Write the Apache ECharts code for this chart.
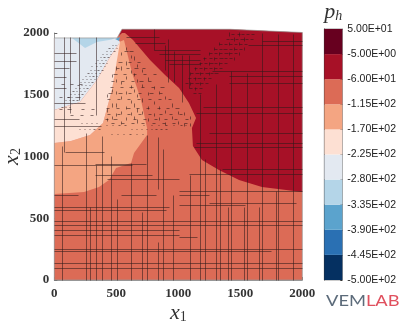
<!DOCTYPE html>
<html>
<head>
<meta charset="utf-8">
<style>
  html, body { margin: 0; padding: 0; background: #fff; }
  #chart { width: 407px; height: 330px; }
</style>
<script src="https://cdn.jsdelivr.net/npm/echarts@6/dist/echarts.min.js"></script>
</head>
<body>
<div id="chart"></div>
<script>
// colour bands, bottom to top
const bandColors = ['#053061', '#2a70b3', '#5ba3cd', '#b4d5e8', '#e3e9f1', '#fde0d3', '#f4a582', '#dc6b56', '#a71127', '#67001f']
const bandLabels = ['-5.00E+02', '-4.45E+02', '-3.90E+02', '-3.35E+02', '-2.80E+02', '-2.25E+02', '-1.70E+02', '-1.15E+02', '-6.00E+01', '-5.00E+00', '5.00E+01']

// contour regions, in x1 / x2 units
const domainRegion = [[0, 0], [2000, 0], [2000, 2004], [1417, 2030], [546, 2030], [506, 1960], [0, 1960]]
const darkRegion = [[546, 2030], [570, 2000], [635, 1943], [772, 1781], [893, 1660], [1006, 1555], [1086, 1433], [1143, 1312], [1110, 1231], [1118, 1085], [1191, 972], [1328, 891], [1490, 810], [1675, 753], [2000, 713], [2000, 2004], [1417, 2030]]
const peachRegion = [[522, 1927], [562, 1943], [627, 1676], [699, 1457], [748, 1231], [748, 1174], [643, 1028], [619, 947], [498, 907], [441, 810], [361, 753], [240, 713], [0, 696], [0, 1109], [135, 1125], [288, 1174], [393, 1271], [465, 1538]]
const paleRegion = [[530, 1927], [449, 1806], [344, 1619], [207, 1441], [0, 1376], [0, 1109], [135, 1125], [288, 1174], [393, 1271], [465, 1538]]
const greyRegion = [[0, 1960], [506, 1960], [530, 1927], [449, 1806], [344, 1619], [207, 1441], [0, 1376]]
const lightBlueRegion = [[143, 1960], [248, 1879], [344, 1927], [465, 1947], [490, 1960]]
const midBlueRegion = [[490, 1952], [530, 1968], [522, 1935]]
const peakRegion = [[520, 1975], [546, 2030], [580, 2000], [546, 2000]]

// long mesh lines: [x, y0, y1] and [y, x0, x1]
const meshV = [
  [70, 0, 1077], [86, 1036, 1960], [127, 1350, 1960], [256, 0, 1190], [288, 0, 591], [344, 0, 931], [385, 0, 1158], [465, 0, 996],
  [506, 0, 648], [619, 0, 947], [715, 0, 543], [748, 0, 1174], [844, 0, 300], [844, 729, 1150], [877, 0, 1053], [965, 0, 688],
  [1102, 0, 850], [1183, 0, 1498], [1223, 0, 972], [1312, 0, 1579], [1344, 0, 891], [1401, 0, 591], [1433, 0, 1692], [1530, 0, 591],
  [1562, 0, 1676], [1651, 0, 591], [1683, 0, 2000], [1788, 0, 713], [1812, 0, 1990], [1925, 0, 1990],
  [344, 1330, 1960], [200, 1450, 1960], [812, 1862, 2030], [917, 1600, 1950], [1030, 1440, 1820],
  [893, 1700, 1900], [973, 1600, 1850], [1094, 1550, 1820]
]
const meshH = [
  [688, 0, 199], [688, 538, 828], [688, 1006, 1248], [713, 1006, 2000], [623, 1248, 1957], [607, 1006, 1538], [591, 0, 933], [559, 0, 901],
  [470, 0, 2000], [445, 0, 2000], [397, 0, 1006], [364, 0, 1006], [348, 1006, 1151], [251, 0, 2000], [227, 0, 1748], [130, 0, 2000], [97, 0, 2000],
  [1036, 94, 401], [931, 0, 627], [939, 336, 740], [850, 336, 788], [810, 425, 1006], [858, 1094, 2000], [891, 1353, 2000],
  [1069, 1127, 2000], [1109, 1143, 2000], [1190, 1248, 2000], [1352, 1143, 2000], [1393, 1207, 2000], [1595, 1409, 2000], [1644, 1409, 2000],
  [1692, 1272, 2000], [1895, 1570, 2000], [1935, 1675, 2000], [1960, 586, 852], [1862, 812, 1175], [1781, 900, 1175], [1240, 0, 380], [1300, 0, 200],
  [1830, 0, 180], [1770, 0, 180], [1710, 0, 120], [1640, 0, 100], [1550, 0, 100], [1430, 0, 250],
  [1911, 651, 893], [1822, 852, 1175], [1741, 933, 1175]
]

// short mesh pieces in the refined zones: [y, [x, ...]]
const dashH = [
  [1990, [1430, 1475, 1510, 1548, 1590]], [1950, [1385, 1418, 1462, 1505, 1540, 1582]],
  [1910, [1330, 1372, 1412, 1450, 1495, 1530]], [1870, [1288, 1332, 1368, 1410, 1455, 1490]],
  [1830, [1250, 1294, 1330, 1375, 1412, 1450]], [1790, [1205, 1250, 1288, 1335, 1370, 1410]],
  [1750, [1172, 1212, 1254, 1290, 1330, 1372]], [1710, [1130, 1168, 1210, 1252, 1288, 1330, 500, 580, 650, 710]],
  [1670, [1100, 1142, 1178, 1222, 1260, 1295]], [1630, [1082, 1120, 1158, 1202, 1240]],
  [1590, [1060, 1098, 1142, 1180, 1218]], [1550, [1090, 1132, 1170]], [1510, [1120, 1162, 440, 520, 600, 680, 770, 850]],
  [1850, [570, 610]], [1610, [460, 540, 620, 690, 760]],
  [1760, [520, 600, 670]], [1660, [480, 560, 640, 720, 800]], [1560, [450, 530, 610, 700, 780, 860]],
  [1460, [430, 510, 590, 670, 760, 840, 920]], [1390, [420, 500, 585, 660, 745, 830, 905, 980]], [1340, [430, 510, 590, 680, 760, 850, 930, 1010]], [1300, [410, 480, 640, 720, 810, 890, 970, 1060]], [1270, [460, 540, 620, 700, 790, 870, 950, 1050]],
  [1580, [60, 130, 200]], [1480, [40, 105, 175]], [1380, [40, 110, 220, 300]], [1330, [130, 210, 290]]
]
const dashV = [
  [1415, [1975, 1895, 1815]], [1455, [1935, 1855, 1775]], [1495, [1975, 1895, 1815]], [1535, [1935, 1855]], [1335, [1895, 1815, 1735]], [1295, [1855, 1775, 1695]],
  [1255, [1815, 1735, 1655]], [1215, [1775, 1695, 1615]], [1175, [1735, 1655, 1575]], [1135, [1695, 1615, 1535]], [1095, [1655, 1575]],
  [500, [1700, 1600, 1500, 1400, 1320]], [540, [1820, 1700, 1580, 1460, 1340, 1260]], [585, [1860, 1740, 1620, 1500, 1380, 1290]], [625, [1790, 1670, 1550, 1430, 1330]], [650, [1780, 1650, 1520, 1400, 1300]], [670, [1720, 1600, 1480, 1360, 1270]],
  [715, [1680, 1560, 1440, 1340]], [760, [1610, 1490, 1380, 1280]], [805, [1540, 1420, 1320]], [850, [1500, 1380, 1290]], [900, [1460, 1350, 1250]], [950, [1400, 1300]],
  [470, [1640, 1520, 1400, 1300]], [425, [1480, 1360, 1280]], [1000, [1340, 1260]], [1050, [1330, 1240]], [1100, [1300, 1240]]
]
const dots = [
  [1900, [470, 490]], [1875, [440, 470, 500]], [1850, [420, 450, 480]], [1825, [390, 420, 455]], [1800, [370, 400, 432]], [1775, [350, 380, 412]], [1750, [330, 362, 392, 422]], [1725, [300, 338, 370, 402]], [1700, [288, 322, 352, 384]],
  [1675, [270, 300, 330, 362]], [1650, [250, 282, 312, 342]], [1625, [228, 258, 290, 322]], [1600, [212, 240, 272, 304]], [1575, [190, 220, 250, 284]], [1550, [168, 200, 232, 262]], [1525, [150, 180, 210, 242]], [1500, [130, 160, 192, 222]], [1475, [110, 140, 170, 200]], [1450, [90, 122, 150, 182]],
  [1400, [62, 92, 124]],
  [1270, [220, 260, 300, 340]], [1220, [200, 240, 280, 320, 360, 620, 660, 700, 740, 780, 820, 860, 900]], [1180, [460, 510, 560, 610, 660, 710]],
  [1250, [420, 470, 520, 570, 720, 780, 840, 900, 960, 1020, 1060]]
]

const meshColor = 'rgba(45,25,25,0.55)'

function regionSeries(points, color) {
  return {
    type: 'custom',
    xAxisIndex: 0,
    yAxisIndex: 0,
    silent: true,
    data: [0],
    renderItem: (params, api) => ({
      type: 'polygon',
      shape: { points: points.map((p) => api.coord(p)) },
      style: { fill: color }
    })
  }
}

const meshSegments = []
meshV.forEach(([x, y0, y1]) => meshSegments.push([x, y0, x, y1]))
meshH.forEach(([y, x0, x1]) => meshSegments.push([x0, y, x1, y]))
dashH.forEach(([y, xs]) => xs.forEach((x) => meshSegments.push([x, y, x + 26, y])))
dashV.forEach(([x, ys]) => ys.forEach((y) => meshSegments.push([x, y, x, y + 26])))
dots.forEach(([y, xs]) => xs.forEach((x) => meshSegments.push([x, y, x + 10, y])))

const option = {
  animation: false,
  grid: [
    { left: 54.3, top: 33, width: 248, height: 247, outerBoundsMode: 'none' },
    { left: 324.3, top: 29, width: 18, height: 251, outerBoundsMode: 'none', show: true, borderColor: '#999', borderWidth: 1, backgroundColor: 'transparent' }
  ],
  xAxis: [
    {
      type: 'value', min: 0, max: 2000, interval: 500, gridIndex: 0,
      splitLine: { show: false },
      axisLine: { lineStyle: { color: '#999' } },
      axisTick: { inside: true, length: 3, lineStyle: { color: '#666' } },
      axisLabel: { fontFamily: 'Liberation Serif', fontWeight: 'bold', fontSize: 13, color: '#333', margin: 7, formatter: (v) => String(v) },
      name: '{v|x}{s|1}', nameLocation: 'middle', nameGap: 22, nameMoveOverlap: false,
      nameTextStyle: { rich: { v: { fontFamily: 'Liberation Serif', fontStyle: 'italic', fontSize: 22, color: '#333' }, s: { fontFamily: 'Liberation Serif', fontSize: 14, color: '#333', verticalAlign: 'bottom', padding: [8, 0, 0, 0] } } }
    },
    {
      type: 'category', data: ['band'], gridIndex: 1, position: 'top',
      axisLine: { show: false }, axisTick: { show: false }, axisLabel: { show: false },
      name: '{v|p}{s|h}', nameLocation: 'middle', nameGap: 6,
      nameTextStyle: { rich: { v: { fontFamily: 'Liberation Serif', fontStyle: 'italic', fontSize: 22, color: '#333' }, s: { fontFamily: 'Liberation Serif', fontStyle: 'italic', fontSize: 14, color: '#333', padding: [8, 0, 0, 0] } } }
    }
  ],
  yAxis: [
    {
      type: 'value', min: 0, max: 2000, interval: 500, gridIndex: 0,
      splitLine: { show: false },
      axisLine: { show: true, lineStyle: { color: '#999' } },
      axisTick: { show: true, inside: true, length: 3, lineStyle: { color: '#666' } },
      axisLabel: { fontFamily: 'Liberation Serif', fontWeight: 'bold', fontSize: 13, color: '#333', margin: 5, formatter: (v) => String(v) },
      name: '{v|x}{s|2}', nameLocation: 'middle', nameGap: 31, nameRotate: 90, nameMoveOverlap: false,
      nameTextStyle: { rich: { v: { fontFamily: 'Liberation Serif', fontStyle: 'italic', fontSize: 22, color: '#333' }, s: { fontFamily: 'Liberation Serif', fontSize: 14, color: '#333', padding: [8, 0, 0, 0] } } }
    },
    {
      type: 'value', min: 0, max: 10, interval: 1, gridIndex: 1, position: 'right',
      splitLine: { show: false },
      axisLine: { show: true, lineStyle: { color: '#999' } },
      axisTick: { show: true, inside: true, length: 2, lineStyle: { color: '#333' } },
      axisLabel: { fontFamily: 'Liberation Sans', fontSize: 10.5, color: '#222', margin: 5, formatter: (v) => bandLabels[v] }
    },
    {
      type: 'value', min: 0, max: 10, interval: 1, gridIndex: 1, position: 'left',
      splitLine: { show: false },
      axisLine: { show: true, lineStyle: { color: '#333' } },
      axisTick: { show: false }, axisLabel: { show: false }
    }
  ],
  graphic: [
    {
      type: 'text', left: 326, top: 294, scaleX: 1.22,
      style: {
        text: '{a|VEM}{b|LAB}',
        rich: {
          a: { fontFamily: 'Lato', fontSize: 15, fill: '#5c6b7a', color: '#5c6b7a' },
          b: { fontFamily: 'Lato', fontSize: 15, fill: '#e0505e', color: '#e0505e' }
        }
      }
    }
  ],
  series: [
    regionSeries(domainRegion, bandColors[7]),
    regionSeries(darkRegion, bandColors[8]),
    regionSeries(peachRegion, bandColors[6]),
    regionSeries(paleRegion, bandColors[5]),
    regionSeries(greyRegion, bandColors[4]),
    regionSeries(lightBlueRegion, bandColors[3]),
    regionSeries(midBlueRegion, bandColors[2]),
    regionSeries(peakRegion, bandColors[8]),
    {
      type: 'custom',
      xAxisIndex: 0,
      yAxisIndex: 0,
      silent: true,
      data: [0],
      renderItem: (params, api) => ({
        type: 'polygon',
        shape: { points: domainRegion.map((p) => api.coord(p)) },
        style: { fill: 'none', stroke: 'rgba(150,150,150,0.7)', lineWidth: 1 }
      })
    },
    {
      type: 'custom',
      xAxisIndex: 0,
      yAxisIndex: 0,
      silent: true,
      data: meshSegments,
      renderItem: (params, api) => {
        const a = api.coord([api.value(0), api.value(1)])
        const b = api.coord([api.value(2), api.value(3)])
        // snap to the pixel grid so the mesh stays crisp
        const snap = (v) => Math.floor(v) + 0.5
        return {
          type: 'line',
          shape: { x1: snap(a[0]), y1: snap(a[1]), x2: snap(b[0]), y2: snap(b[1]) },
          style: { stroke: meshColor, lineWidth: 1 }
        }
      }
    },
    ...bandColors.map((color) => ({
      type: 'bar',
      xAxisIndex: 1,
      yAxisIndex: 1,
      stack: 'bands',
      barWidth: '100%',
      silent: true,
      itemStyle: { color },
      data: [1]
    }))
  ]
}

const chart = echarts.init(document.getElementById('chart'), null, { renderer: 'canvas' })
chart.setOption(option)
</script>
</body>
</html>
